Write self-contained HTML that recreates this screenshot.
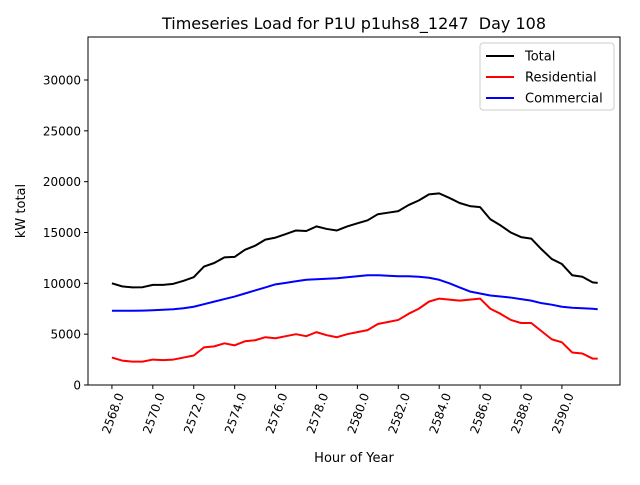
<!DOCTYPE html>
<html><head><meta charset="utf-8"><style>
body{margin:0;background:#fff;}
svg text{font-family:"DejaVu Sans","Liberation Sans",sans-serif;fill:#000;}
</style></head><body>
<svg id="chart" width="640" height="480" xmlns="http://www.w3.org/2000/svg">
<rect x="0" y="0" width="640" height="480" fill="#fff"/>
<text x="354" y="29" font-size="16" text-anchor="middle" style="white-space:pre">Timeseries Load for P1U p1uhs8_1247&#160; Day 108</text>
<g id="plot"></g>
<text transform="translate(25,211) rotate(-90)" font-size="13" text-anchor="middle">kW total</text>
<text x="354" y="462" font-size="13" text-anchor="middle">Hour of Year</text>
</svg>
<script>
const hours=[0,0.5,1,1.5,2,2.5,3,3.5,4,4.5,5,5.5,6,6.5,7,7.5,8,8.5,9,9.5,10,10.5,11,11.5,12,12.5,13,13.5,14,14.5,15,15.5,16,16.5,17,17.5,18,18.5,19,19.5,20,20.5,21,21.5,22,22.5,23,23.5,23.75];
const residential=[2700,2400,2300,2300,2500,2450,2500,2700,2900,3700,3800,4100,3900,4300,4400,4700,4600,4800,5000,4800,5200,4900,4700,5000,5200,5400,6000,6200,6400,7000,7500,8200,8500,8400,8300,8400,8500,7500,7000,6400,6100,6100,5300,4500,4200,3200,3100,2600,2600];
const commercial=[7300,7300,7300,7320,7350,7400,7450,7550,7700,7950,8200,8450,8700,9000,9300,9600,9900,10050,10200,10350,10400,10450,10500,10600,10700,10800,10800,10750,10700,10700,10650,10550,10350,10000,9600,9200,9000,8800,8700,8600,8450,8300,8050,7900,7700,7600,7550,7500,7450];
const total=[10000,9700,9600,9620,9850,9850,9950,10250,10600,11650,12000,12550,12600,13300,13700,14300,14500,14850,15200,15150,15600,15350,15200,15600,15900,16200,16800,16950,17100,17700,18150,18750,18850,18400,17900,17600,17500,16300,15700,15000,14550,14400,13350,12400,11900,10800,10650,10100,10050];
const yTicks=[0,5000,10000,15000,20000,25000,30000];
const xTicks=[2568,2570,2572,2574,2576,2578,2580,2582,2584,2586,2588,2590];
const startHour=2568;

const L=88,R=620,T=37,B=385;
const xMin=2566.83,xMax=2592.84,yMax=34230;
const sx=v=>L+(v-xMin)/(xMax-xMin)*(R-L);
const sy=v=>B-v/yMax*(B-T);
const NS="http://www.w3.org/2000/svg";
const g=document.getElementById('plot');
function mk(tag,attrs){const e=document.createElementNS(NS,tag);for(const k in attrs)e.setAttribute(k,attrs[k]);g.appendChild(e);return e;}

yTicks.forEach(v=>{
  const t=mk('line',{x1:L-4,x2:L,y1:sy(v),y2:sy(v),stroke:'#000','stroke-width':1});
  
  
  const tx=mk('text',{x:L-7,y:sy(v)+4.5,'font-size':12,'text-anchor':'end'});
  tx.textContent=v;
  
  
});
xTicks.forEach(v=>{
  const t=mk('line',{x1:sx(v),x2:sx(v),y1:B,y2:B+4,stroke:'#000','stroke-width':1});
  
  
  const tx=mk('text',{transform:`translate(${sx(v)+12},${B+10}) rotate(-70)`,'font-size':12,'text-anchor':'end'});
  tx.textContent=v.toFixed(1);
  
  
});
function line(vals,color,name){
  const d=vals.map((v,i)=>(i?'L':'M')+sx(startHour+hours[i]).toFixed(2)+','+sy(v).toFixed(2)).join('');
  const p=mk('path',{d:d,fill:'none',stroke:color,'stroke-width':2,'stroke-linejoin':'round'});
  
  
}
line(total,'#000','total-line');
line(residential,'#f00','residential-line');
line(commercial,'#00f','commercial-line');
const frame=mk('rect',{x:L,y:T,width:R-L,height:B-T,fill:'none',stroke:'#000','stroke-width':1});



const lg=mk('rect',{x:480,y:43,width:134,height:67,rx:3,fill:'#fff',stroke:'#ccc','stroke-width':1});


[['Total','#000'],['Residential','#f00'],['Commercial','#00f']].forEach((e,i)=>{
  const y=56+i*21;
  const l=mk('line',{x1:486,x2:514,y1:y,y2:y,stroke:e[1],'stroke-width':2});
  
  
  const t=mk('text',{x:525,y:y+4.5,'font-size':13});
  t.textContent=e[0];
  
  
});
</script>
</body></html>
